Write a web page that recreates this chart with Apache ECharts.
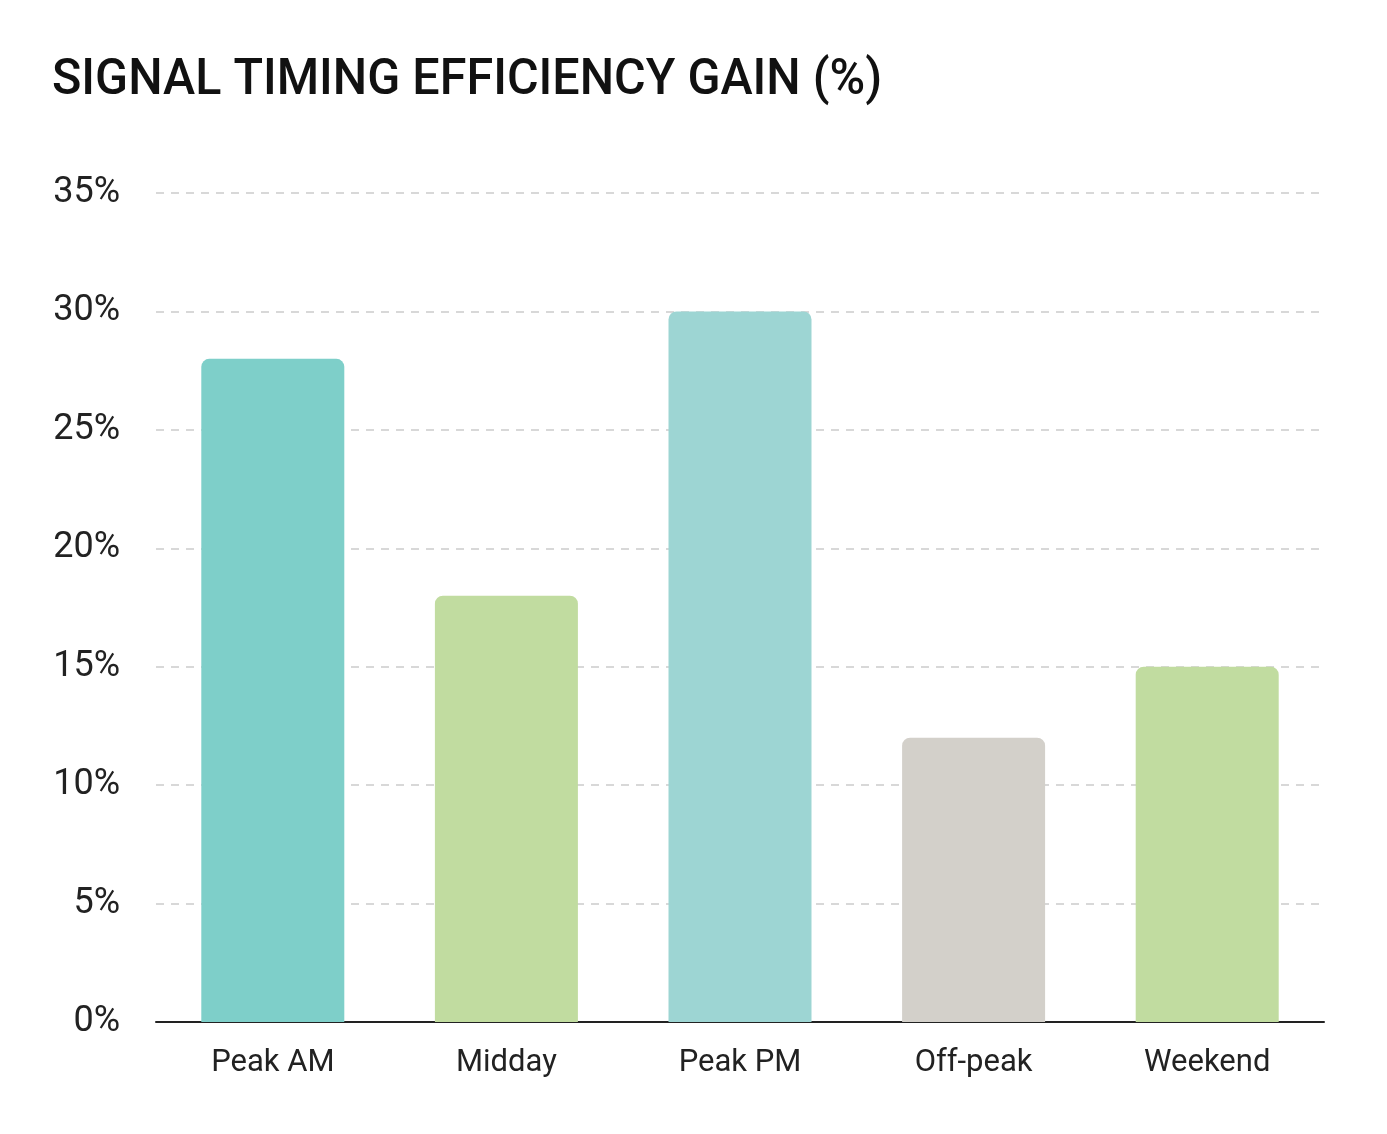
<!DOCTYPE html>
<html>
<head>
<meta charset="utf-8">
<script src="https://cdn.jsdelivr.net/npm/echarts@6/dist/echarts.min.js"></script>
<style>
    html, body { margin: 0; padding: 0; background: #fff; }
    #chart { width: 1387px; height: 1134px; }
</style>
</head>
<body>
<div id="chart"></div>
<script>
    // periods and gain values (%)
    var categories = ['Peak AM', 'Midday', 'Peak PM', 'Off-peak', 'Weekend'];
    var gains = [28, 18, 30, 12, 15];
    var barColors = ['#7ecfc9', '#c1dca0', '#9dd5d3', '#d3d0ca', '#c1dca0'];

    var chart = echarts.init(document.getElementById('chart'));

    chart.setOption({
        backgroundColor: '#ffffff',
        animation: false,
        graphic: [
            {
                type: 'text',
                left: 52,
                top: 56,
                scaleX: 0.97,
                style: {
                    text: 'SIGNAL TIMING EFFICIENCY GAIN (%)',
                    fill: '#111',
                    font: '500 50px Roboto, sans-serif'
                }
            }
        ],
        grid: {
            left: 156,
            right: 63,
            top: 193,
            bottom: 112,
            containLabel: false
        },
        xAxis: {
            type: 'category',
            data: categories,
            axisTick: { show: false },
            axisLine: {
                lineStyle: { color: '#222', width: 2 }
            },
            axisLabel: {
                color: '#222',
                fontFamily: 'Roboto',
                fontSize: 31,
                margin: 26
            }
        },
        yAxis: {
            type: 'value',
            min: 0,
            max: 35,
            interval: 5,
            axisLine: { show: false },
            axisTick: { show: false },
            axisLabel: {
                color: '#222',
                fontFamily: 'Roboto',
                fontSize: 36,
                margin: 36,
                formatter: '{value}%'
            },
            splitLine: {
                show: true,
                lineStyle: {
                    color: '#cccccc',
                    width: 1.5,
                    type: [8, 7]
                }
            }
        },
        series: [
            {
                name: 'Gain',
                type: 'bar',
                barWidth: 143,
                data: gains.map(function (v, i) {
                    return {
                        value: v,
                        itemStyle: { color: barColors[i] }
                    };
                }),
                itemStyle: {
                    borderRadius: [8, 8, 0, 0]
                }
            }
        ]
    });
</script>
</body>
</html>
